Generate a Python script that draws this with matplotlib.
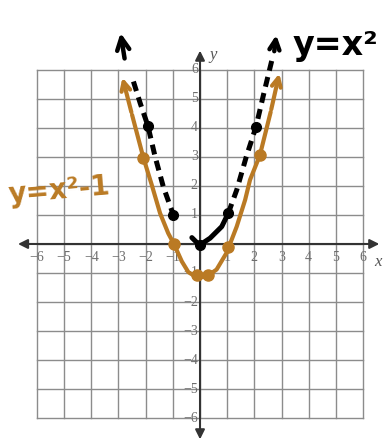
import matplotlib.pyplot as plt

# cuadricula y etiquetas
ticks = [-6, -5, -4, -3, -2, -1, 1, 2, 3, 4, 5, 6]
grid_lines = list(range(-6, 7))

# y = x^2 (negro, a mano)
neg_izq_x = [-2.45, -2.2, -1.92, -1.65, -1.35, -0.98]
neg_izq_y = [5.6, 4.85, 4.08, 3.0, 1.97, 1.0]
neg_centro_x = [-0.3, -0.15, 0.0, 0.37, 0.8, 1.04]
neg_centro_y = [0.22, 0.08, -0.03, 0.2, 0.6, 1.06]
neg_der_x = [1.04, 1.35, 1.7, 2.06, 2.35, 2.64]
neg_der_y = [1.06, 1.86, 3.0, 4.04, 5.2, 6.32]
neg_puntos_x = [-1.92, -0.98, 0.0, 1.04, 2.06]
neg_puntos_y = [4.08, 1.0, -0.03, 1.06, 4.04]

# y = x^2 - 1 (naranja, a mano)
nar_x = [-2.88, -2.5, -2.08, -1.78, -1.47, -1.17, -0.96, -0.67, -0.43, -0.12,
         0.25, 0.61, 0.98, 1.35, 1.66, 1.84, 2.2, 2.6, 2.94]
nar_y = [5.83, 4.45, 2.96, 2.05, 1.06, 0.37, 0.0, -0.6, -0.97, -1.15,
         -1.12, -0.88, -0.3, 0.6, 1.52, 2.21, 3.05, 4.55, 5.97]
nar_puntos_x = [-2.08, -0.96, -0.12, 0.3, 1.04, 2.2]
nar_puntos_y = [2.96, 0.0, -1.08, -1.08, -0.09, 3.05]

naranja = '#BA7A24'

fig = plt.figure(figsize=(3.84, 4.43), dpi=100)
ax = fig.add_axes([0, 0, 1, 1])
ax.set_xlim(-7.36, 6.77)
ax.set_ylim(-6.86, 8.41)
ax.axis('off')

for g in grid_lines:
    ax.plot([g, g], [-6, 6], color='#8c8c8c', lw=1, zorder=1)
    ax.plot([-6, 6], [g, g], color='#8c8c8c', lw=1, zorder=1)

# ejes con flechas
ax.annotate('', xy=(-6.8, 0), xytext=(6.7, 0),
            arrowprops=dict(arrowstyle='<|-|>', color='#333333', lw=1.5, mutation_scale=14), zorder=2)
ax.annotate('', xy=(0, 6.76), xytext=(0, -6.83),
            arrowprops=dict(arrowstyle='<|-|>', color='#333333', lw=1.5, mutation_scale=14), zorder=2)

for t in ticks:
    ax.text(t, -0.48, str(t).replace('-', '\u2212'), ha='center', va='center',
            fontsize=10, family='Liberation Serif', color='#6e6e6e', zorder=3)
    ax.text(-0.08, t, str(t).replace('-', '\u2212'), ha='right', va='center',
            fontsize=10, family='Liberation Serif', color='#6e6e6e', zorder=3)
ax.text(6.55, -0.62, 'x', fontsize=12, family='Liberation Serif', style='italic',
        color='#555555', ha='center', va='center')
ax.text(0.48, 6.52, 'y', fontsize=12, family='Liberation Serif', style='italic',
        color='#555555', ha='center', va='center')

# curva negra discontinua
for xs, ys, estilo in [(neg_izq_x, neg_izq_y, (0, (2, 1.3))),
                       (neg_centro_x, neg_centro_y, '-'),
                       (neg_der_x, neg_der_y, (0, (2, 1.3)))]:
    ax.plot(xs, ys, color='black', lw=3.6, linestyle=estilo, solid_capstyle='round',
            solid_joinstyle='round', zorder=4)
ax.plot(neg_puntos_x, neg_puntos_y, 'o', color='black', ms=7, zorder=4)
ax.annotate('', xy=(-2.94, 7.37), xytext=(-2.76, 6.3),
            arrowprops=dict(arrowstyle='->', color='black', lw=3.2, mutation_scale=22), zorder=4)
ax.annotate('', xy=(2.82, 7.3), xytext=(2.72, 6.55),
            arrowprops=dict(arrowstyle='->', color='black', lw=3.2, mutation_scale=18), zorder=4)

# curva naranja
ax.plot(nar_x[1:-1], nar_y[1:-1], color=naranja, lw=3, solid_capstyle='round',
        solid_joinstyle='round', zorder=5)
ax.plot(nar_puntos_x, nar_puntos_y, 'o', color=naranja, ms=8, zorder=5)
ax.annotate('', xy=(nar_x[0], nar_y[0]), xytext=(nar_x[1], nar_y[1]),
            arrowprops=dict(arrowstyle='->', color=naranja, lw=3, mutation_scale=16), zorder=5)
ax.annotate('', xy=(nar_x[-1], nar_y[-1]), xytext=(nar_x[-2], nar_y[-2]),
            arrowprops=dict(arrowstyle='->', color=naranja, lw=3, mutation_scale=16), zorder=5)

# rotulos a mano
ax.text(3.42, 6.5, 'y=x\u00b2', fontsize=24, fontweight='bold', color='black',
        ha='left', va='baseline', family='DejaVu Sans')
ax.text(-7.1, 1.4, 'y=x\u00b2-1', fontsize=20, fontweight='bold', color=naranja,
        ha='left', va='baseline', rotation=5, family='DejaVu Sans')

fig.savefig('out.png', dpi=100)
